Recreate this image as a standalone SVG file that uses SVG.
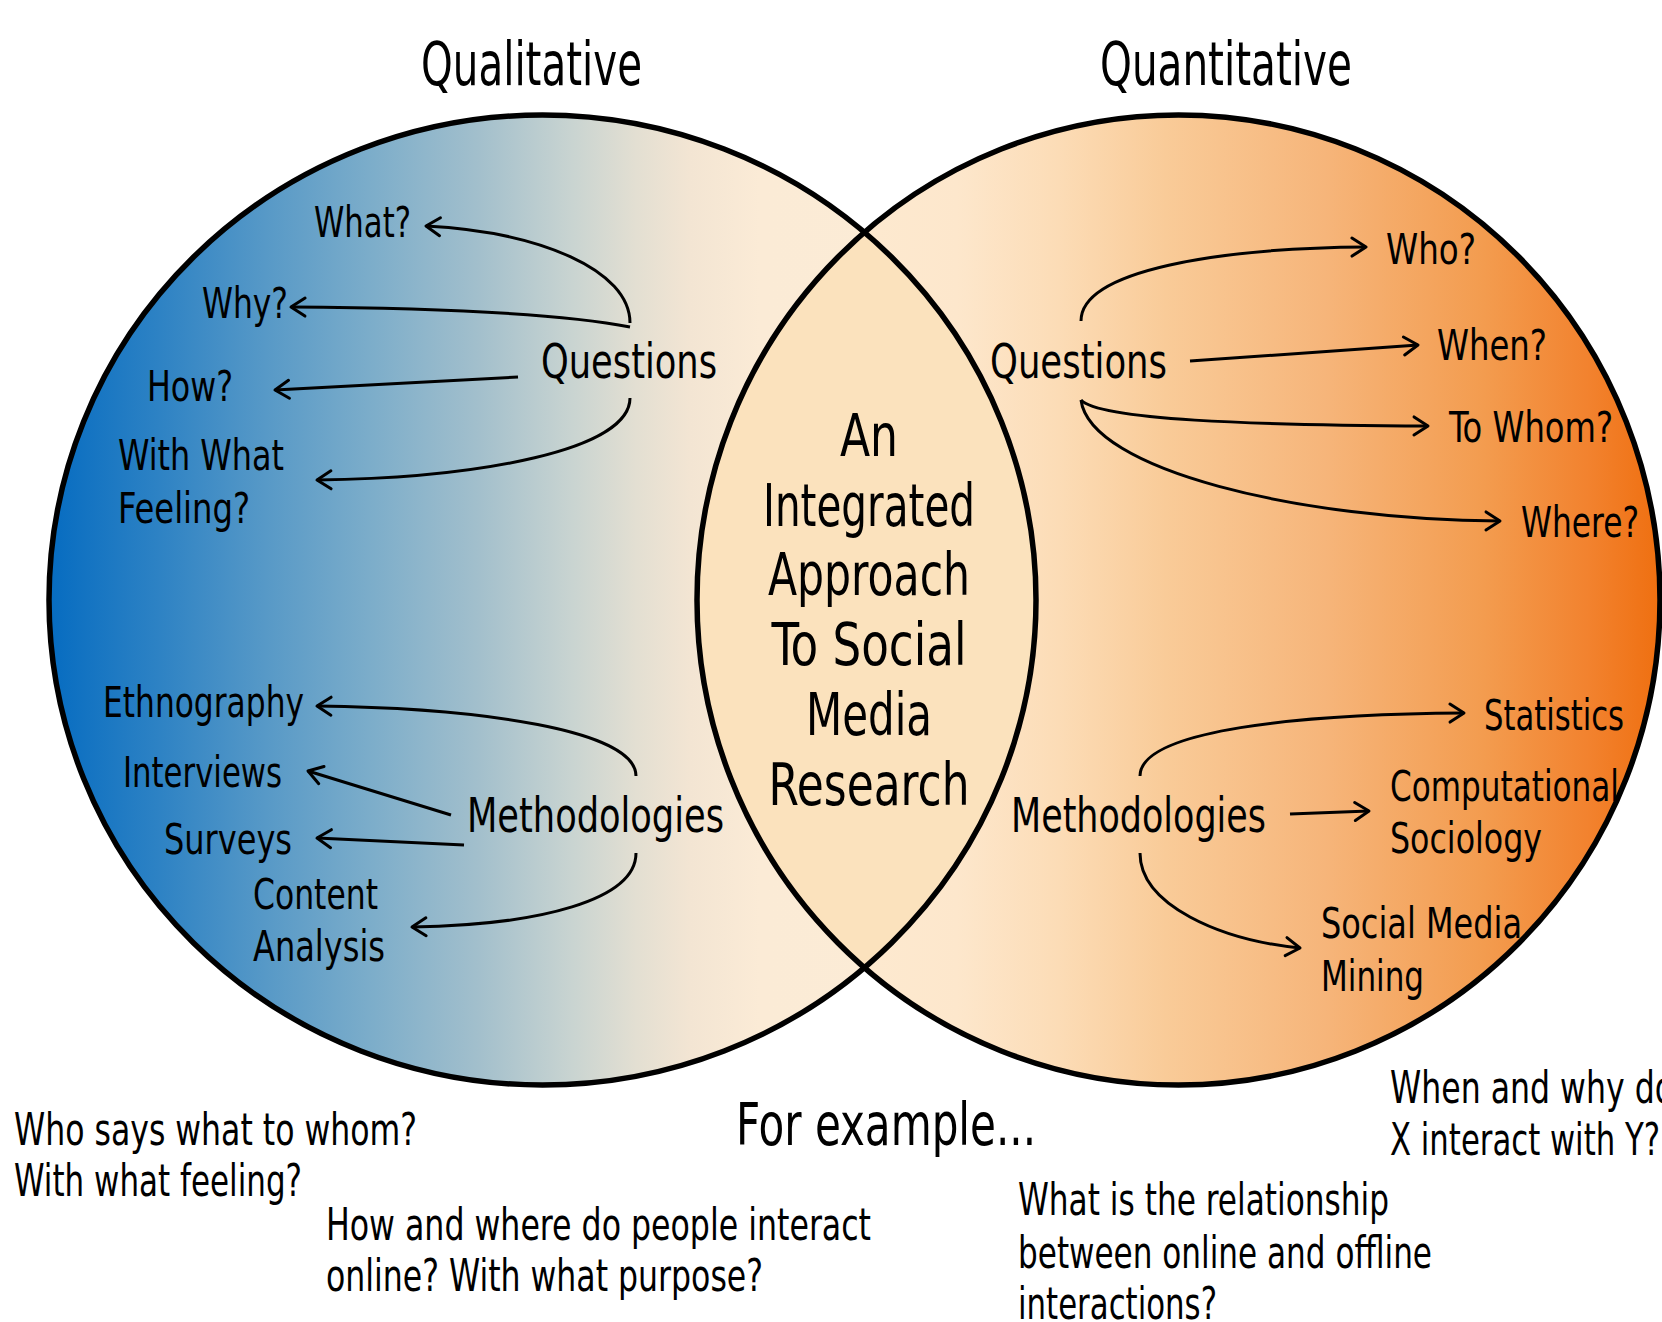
<svg xmlns="http://www.w3.org/2000/svg" width="1662" height="1322" viewBox="0 0 1662 1322">
<style>
text{font-family:"DejaVu Sans Condensed","DejaVu Sans",sans-serif;fill:#000}
.title{font-size:60px}
.center{font-size:58px}
.hub{font-size:48px}
.leaf{font-size:43px}
.ex{font-size:45px}
.exbig{font-size:58px}
.conn path{fill:none;stroke:#000;stroke-width:3;marker-end:url(#arr)}
.ring{fill:none;stroke:#000;stroke-width:5.5}
</style>
<defs>
<linearGradient id="gLeft" gradientUnits="userSpaceOnUse" x1="49" y1="0" x2="1036" y2="0">
<stop offset="0" stop-color="#066cc1"/>
<stop offset="0.11" stop-color="#2d82c4"/>
<stop offset="0.22" stop-color="#5799c7"/>
<stop offset="0.326" stop-color="#7cadca"/>
<stop offset="0.434" stop-color="#a2bfcc"/>
<stop offset="0.53" stop-color="#c9d4d1"/>
<stop offset="0.595" stop-color="#e3dfd2"/>
<stop offset="0.65" stop-color="#f3e5d3"/>
<stop offset="0.72" stop-color="#fbebd6"/>
<stop offset="1" stop-color="#fcecd6"/>
</linearGradient>
<linearGradient id="gRight" gradientUnits="userSpaceOnUse" x1="697" y1="0" x2="1660" y2="0">
<stop offset="0" stop-color="#fdedd6"/>
<stop offset="0.27" stop-color="#fde7cc"/>
<stop offset="0.376" stop-color="#fcdcb6"/>
<stop offset="0.487" stop-color="#f9cb98"/>
<stop offset="0.652" stop-color="#f6b57a"/>
<stop offset="0.817" stop-color="#f39c4f"/>
<stop offset="0.927" stop-color="#f2822e"/>
<stop offset="1" stop-color="#ef6f10"/>
</linearGradient>
<marker id="arr" markerUnits="userSpaceOnUse" markerWidth="30" markerHeight="30" viewBox="-20 -15 30 30" refX="0" refY="0" orient="auto">
<path d="M-14,-9 L0,0 L-14,9" fill="none" stroke="#000" stroke-width="3" stroke-linecap="round" stroke-linejoin="round"/>
</marker>
</defs>
<rect width="1662" height="1322" fill="#fff"/>

<g id="venn">
<ellipse id="qualitative-set" cx="542.5" cy="600" rx="493.5" ry="485" fill="url(#gLeft)"/>
<ellipse id="quantitative-set" cx="1178.5" cy="600" rx="481.5" ry="485" fill="url(#gRight)"/>
<path id="overlap" d="M864.4,232.4 A493.5,485 0 0,1 864.4,967.6 A481.5,485 0 0,1 864.4,232.4 Z" fill="#fbe2bd"/>
<ellipse class="ring" cx="542.5" cy="600" rx="493.5" ry="485"/>
<ellipse class="ring" cx="1178.5" cy="600" rx="481.5" ry="485"/>
</g>

<g id="titles">
<text id="t-qual" class="title" x="421" y="85" textLength="221" lengthAdjust="spacingAndGlyphs">Qualitative</text>
<text id="t-quant" class="title" x="1100" y="85" textLength="252" lengthAdjust="spacingAndGlyphs">Quantitative</text>
</g>

<g id="center">
<text class="center" x="869" y="456" text-anchor="middle" textLength="58" lengthAdjust="spacingAndGlyphs">An</text>
<text class="center" x="869" y="526" text-anchor="middle" textLength="212" lengthAdjust="spacingAndGlyphs">Integrated</text>
<text class="center" x="869" y="595" text-anchor="middle" textLength="202" lengthAdjust="spacingAndGlyphs">Approach</text>
<text class="center" x="869" y="665" text-anchor="middle" textLength="195" lengthAdjust="spacingAndGlyphs">To Social</text>
<text class="center" x="869" y="735" text-anchor="middle" textLength="126" lengthAdjust="spacingAndGlyphs">Media</text>
<text class="center" x="869" y="805" text-anchor="middle" textLength="201" lengthAdjust="spacingAndGlyphs">Research</text>
</g>

<g id="node-left-questions"><text class="hub" x="541" y="378" textLength="176" lengthAdjust="spacingAndGlyphs">Questions</text></g>
<g id="node-what"><text class="leaf" x="314" y="237" textLength="97" lengthAdjust="spacingAndGlyphs">What?</text></g>
<g id="node-why"><text class="leaf" x="202" y="318" textLength="86" lengthAdjust="spacingAndGlyphs">Why?</text></g>
<g id="node-how"><text class="leaf" x="147" y="401" textLength="86" lengthAdjust="spacingAndGlyphs">How?</text></g>
<g id="node-feeling">
<text class="leaf" x="118" y="470" textLength="166" lengthAdjust="spacingAndGlyphs">With What</text>
<text class="leaf" x="118" y="523" textLength="132" lengthAdjust="spacingAndGlyphs">Feeling?</text>
</g>

<g id="node-left-methods"><text class="hub" x="467" y="832" textLength="257" lengthAdjust="spacingAndGlyphs">Methodologies</text></g>
<g id="node-ethnography"><text class="leaf" x="103" y="717" textLength="201" lengthAdjust="spacingAndGlyphs">Ethnography</text></g>
<g id="node-interviews"><text class="leaf" x="123" y="787" textLength="159" lengthAdjust="spacingAndGlyphs">Interviews</text></g>
<g id="node-surveys"><text class="leaf" x="164" y="854" textLength="128" lengthAdjust="spacingAndGlyphs">Surveys</text></g>
<g id="node-content">
<text class="leaf" x="253" y="909" textLength="125" lengthAdjust="spacingAndGlyphs">Content</text>
<text class="leaf" x="253" y="961" textLength="132" lengthAdjust="spacingAndGlyphs">Analysis</text>
</g>

<g id="node-right-questions"><text class="hub" x="990" y="378" textLength="177" lengthAdjust="spacingAndGlyphs">Questions</text></g>
<g id="node-who"><text class="leaf" x="1386" y="264" textLength="90" lengthAdjust="spacingAndGlyphs">Who?</text></g>
<g id="node-when"><text class="leaf" x="1437" y="360" textLength="110" lengthAdjust="spacingAndGlyphs">When?</text></g>
<g id="node-towhom"><text class="leaf" x="1449" y="442" textLength="164" lengthAdjust="spacingAndGlyphs">To Whom?</text></g>
<g id="node-where"><text class="leaf" x="1521" y="537" textLength="118" lengthAdjust="spacingAndGlyphs">Where?</text></g>

<g id="node-right-methods"><text class="hub" x="1011" y="832" textLength="255" lengthAdjust="spacingAndGlyphs">Methodologies</text></g>
<g id="node-statistics"><text class="leaf" x="1484" y="730" textLength="140" lengthAdjust="spacingAndGlyphs">Statistics</text></g>
<g id="node-compsoc">
<text class="leaf" x="1390" y="801" textLength="229" lengthAdjust="spacingAndGlyphs">Computational</text>
<text class="leaf" x="1390" y="853" textLength="152" lengthAdjust="spacingAndGlyphs">Sociology</text>
</g>
<g id="node-smm">
<text class="leaf" x="1321" y="938" textLength="201" lengthAdjust="spacingAndGlyphs">Social Media</text>
<text class="leaf" x="1321" y="991" textLength="103" lengthAdjust="spacingAndGlyphs">Mining</text>
</g>

<g id="connectors" class="conn">
<path d="M630,323 C630,270 540,232 426,226"/>
<path d="M630,327 C560,313 430,308 291,307"/>
<path d="M518,377 L275,390"/>
<path d="M630,398 C630,450 480,478 317,480"/>
<path d="M636,776 C636,730 480,708 317,706"/>
<path d="M451,815 L308,771"/>
<path d="M464,845 L317,838"/>
<path d="M636,853 C636,900 540,925 412,927"/>
<path d="M1081,321 C1081,270 1220,248 1366,247"/>
<path d="M1190,361 L1418,345"/>
<path d="M1081,400 C1100,420 1250,425 1428,426"/>
<path d="M1081,400 C1090,470 1300,520 1500,521"/>
<path d="M1140,776 C1140,730 1300,714 1464,713"/>
<path d="M1290,814 L1369,811"/>
<path d="M1140,853 C1140,905 1220,940 1300,948"/>
</g>

<g id="examples">
<text class="exbig" x="736" y="1145" textLength="300" lengthAdjust="spacingAndGlyphs">For example...</text>
<text class="ex" x="14" y="1145" textLength="403" lengthAdjust="spacingAndGlyphs">Who says what to whom?</text>
<text class="ex" x="14" y="1196" textLength="288" lengthAdjust="spacingAndGlyphs">With what feeling?</text>
<text class="ex" x="326" y="1240" textLength="545" lengthAdjust="spacingAndGlyphs">How and where do people interact</text>
<text class="ex" x="326" y="1291" textLength="437" lengthAdjust="spacingAndGlyphs">online? With what purpose?</text>
<text class="ex" x="1390" y="1103" textLength="284" lengthAdjust="spacingAndGlyphs">When and why do</text>
<text class="ex" x="1390" y="1155" textLength="270" lengthAdjust="spacingAndGlyphs">X interact with Y?</text>
<text class="ex" x="1018" y="1215" textLength="371" lengthAdjust="spacingAndGlyphs">What is the relationship</text>
<text class="ex" x="1018" y="1268" textLength="414" lengthAdjust="spacingAndGlyphs">between online and offline</text>
<text class="ex" x="1018" y="1319" textLength="199" lengthAdjust="spacingAndGlyphs">interactions?</text>
</g>
</svg>
